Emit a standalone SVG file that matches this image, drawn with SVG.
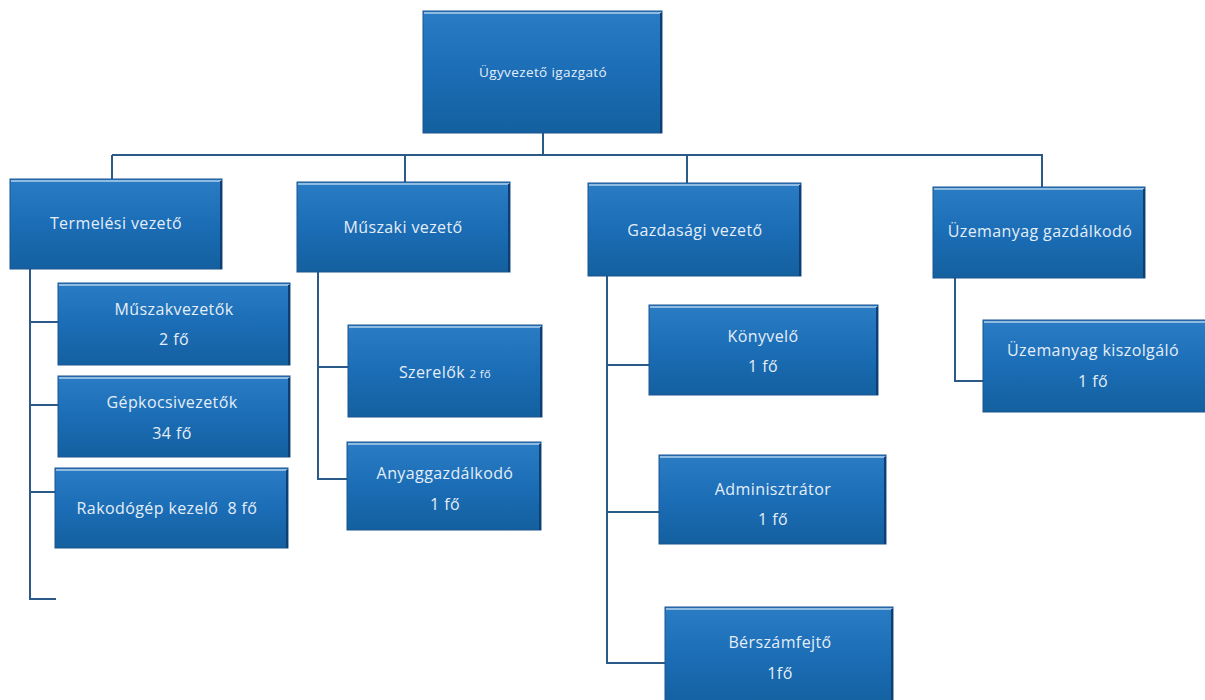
<svg xmlns="http://www.w3.org/2000/svg" width="1205" height="700" viewBox="0 0 1205 700">
<defs>
<linearGradient id="g" x1="0" y1="0" x2="0" y2="1">
<stop offset="0" stop-color="#2a7cc4"/>
<stop offset="0.5" stop-color="#1b6db6"/>
<stop offset="1" stop-color="#14609f"/>
</linearGradient>
<style>
.box{fill:url(#g);stroke:#1a5590;stroke-width:1}
.hl{stroke:#8fbbe0;stroke-width:2;fill:none}
.sh{stroke:#0e3f70;stroke-width:2;fill:none}
.t{font-family:"Open Sans","Noto Sans","Liberation Sans",sans-serif;fill:#e4eef8;font-size:16px;letter-spacing:0.4px;text-anchor:middle}
.s{font-size:13.5px;letter-spacing:0.4px}
.xs{font-size:11.5px;letter-spacing:0.3px}
.c{stroke:#2b5a88;stroke-width:2;fill:none}
</style>
</defs>
<rect width="1205" height="700" fill="#ffffff"/>
<g id="connectors">
<path class="c" d="M543 133V155M112 155H1043M112 155V179M405 155V182M687 155V183M1042 155V187"/>
<path class="c" d="M30 269V599H56M30 322H58M30 405H58M30 492H55"/>
<path class="c" d="M318 272V479H347M318 367H348"/>
<path class="c" d="M607 276V663H665M607 365H649M607 512H659"/>
<path class="c" d="M955 278V381H983"/>
</g>
<g id="n-ugyvezeto">
<rect class="box" x="423" y="11" width="239" height="122"/>
<path class="hl" d="M424 13H661"/><path class="sh" d="M661 13V133"/>
<text class="t s" x="543" y="77">Ügyvezető igazgató</text>
</g>
<g id="n-termelesi">
<rect class="box" x="10" y="179" width="212" height="90"/>
<path class="hl" d="M11 181H221"/><path class="sh" d="M221 181V269"/>
<text class="t" x="116" y="229">Termelési vezető</text>
</g>
<g id="n-muszaki">
<rect class="box" x="297" y="182" width="213" height="90"/>
<path class="hl" d="M298 184H509"/><path class="sh" d="M509 184V272"/>
<text class="t" x="403" y="233">Műszaki vezető</text>
</g>
<g id="n-gazdasagi">
<rect class="box" x="588" y="183" width="213" height="93"/>
<path class="hl" d="M589 185H800"/><path class="sh" d="M800 185V276"/>
<text class="t" x="695" y="236">Gazdasági vezető</text>
</g>
<g id="n-uzemanyag-g">
<rect class="box" x="933" y="187" width="212" height="91"/>
<path class="hl" d="M934 189H1144"/><path class="sh" d="M1144 189V278"/>
<text class="t" x="1040" y="237">Üzemanyag gazdálkodó</text>
</g>
<g id="n-muszakvezetok">
<rect class="box" x="58" y="283" width="232" height="82"/>
<path class="hl" d="M59 285H289"/><path class="sh" d="M289 285V365"/>
<text class="t" x="174" y="315">Műszakvezetők</text>
<text class="t" x="174" y="345">2 fő</text>
</g>
<g id="n-gepkocsi">
<rect class="box" x="58" y="376" width="232" height="81"/>
<path class="hl" d="M59 378H289"/><path class="sh" d="M289 378V457"/>
<text class="t" x="172" y="408">Gépkocsivezetők</text>
<text class="t" x="172" y="439">34 fő</text>
</g>
<g id="n-rakodogep">
<rect class="box" x="55" y="468" width="233" height="80"/>
<path class="hl" d="M56 470H287"/><path class="sh" d="M287 470V548"/>
<text class="t" x="167" y="514" xml:space="preserve">Rakodógép kezelő  8 fő</text>
</g>
<g id="n-szerelok">
<rect class="box" x="348" y="325" width="194" height="92"/>
<path class="hl" d="M349 327H541"/><path class="sh" d="M541 327V417"/>
<text class="t" x="445" y="378">Szerelők <tspan class="xs">2 fő</tspan></text>
</g>
<g id="n-anyag">
<rect class="box" x="347" y="442" width="194" height="88"/>
<path class="hl" d="M348 444H540"/><path class="sh" d="M540 444V530"/>
<text class="t" x="445" y="479">Anyaggazdálkodó</text>
<text class="t" x="445" y="510">1 fő</text>
</g>
<g id="n-konyvelo">
<rect class="box" x="649" y="305" width="229" height="90"/>
<path class="hl" d="M650 307H877"/><path class="sh" d="M877 307V395"/>
<text class="t" x="763" y="342">Könyvelő</text>
<text class="t" x="763" y="372">1 fő</text>
</g>
<g id="n-admin">
<rect class="box" x="659" y="455" width="227" height="89"/>
<path class="hl" d="M660 457H885"/><path class="sh" d="M885 457V544"/>
<text class="t" x="773" y="495">Adminisztrátor</text>
<text class="t" x="773" y="525">1 fő</text>
</g>
<g id="n-berszam">
<rect class="box" x="665" y="607" width="228" height="100"/>
<path class="hl" d="M666 609H892"/><path class="sh" d="M892 609V700"/>
<text class="t" x="780" y="648">Bérszámfejtő</text>
<text class="t" x="780" y="679">1fő</text>
</g>
<g id="n-uzemanyag-k">
<rect class="box" x="983" y="320" width="225" height="92"/>
<path class="hl" d="M984 322H1205"/>
<text class="t" x="1093" y="356">Üzemanyag kiszolgáló</text>
<text class="t" x="1093" y="387">1 fő</text>
</g>
</svg>
